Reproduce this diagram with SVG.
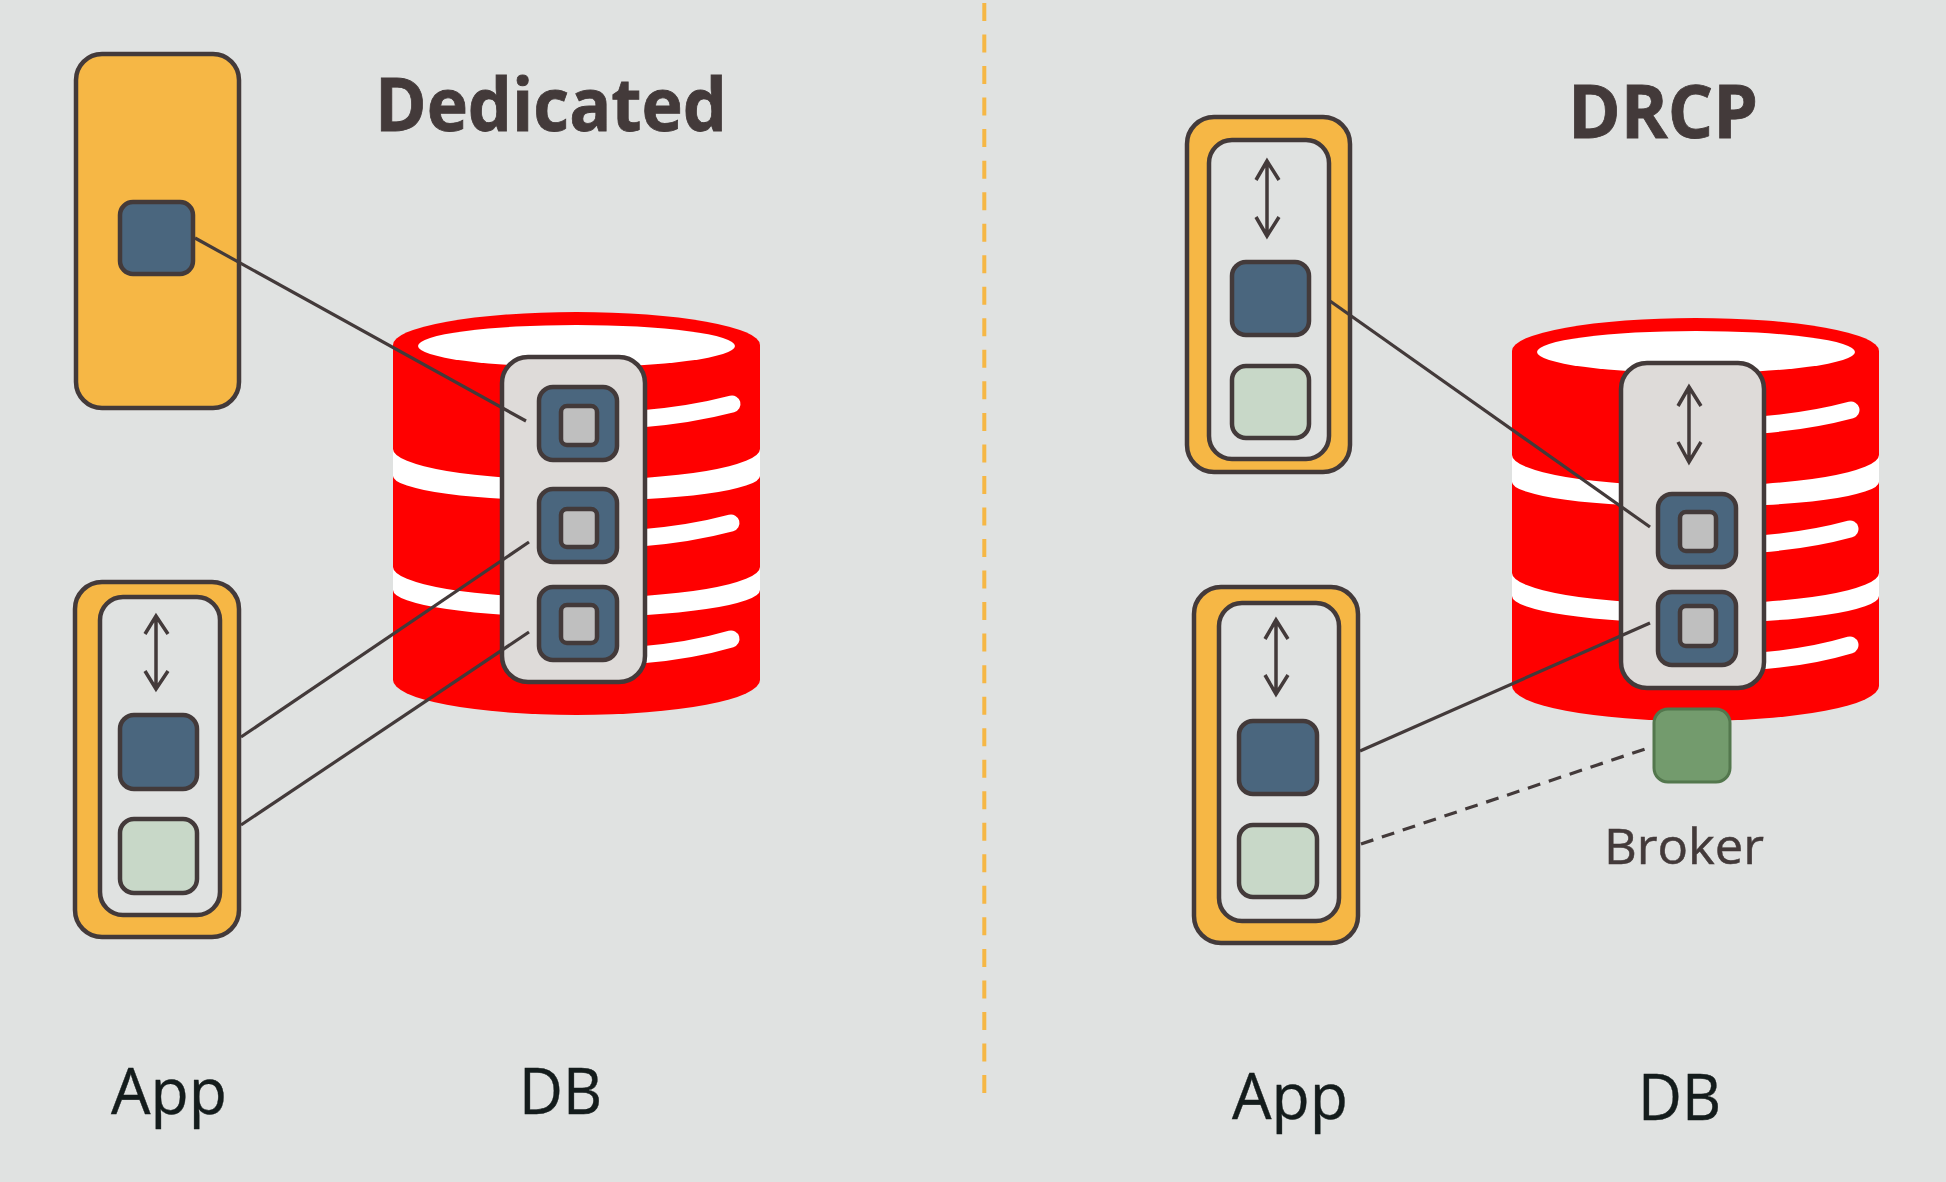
<svg xmlns="http://www.w3.org/2000/svg" width="1946" height="1182" viewBox="0 0 1946 1182">
<style>
.e{stroke:#433a3a;stroke-width:4.5;}
.o{fill:#f6b745;}
.i{fill:#e0e2e1;}
.b{fill:#4a667e;}
.g{fill:#c8d8c8;}
.p{fill:#dedbd9;}
.s{fill:#bfbfbf;}
.r{fill:#f00;}
.w{fill:#fff;}
.st{fill:none;stroke:#fff;stroke-width:17;stroke-linecap:round;}
.c{fill:none;stroke:#433a3a;stroke-width:3.2;}
.ar{fill:none;stroke:#433a3a;stroke-width:3.5;}
.t{font-family:"Open Sans","Noto Sans",sans-serif;}
.d{fill:#433a3a;font-weight:700;font-size:73px;stroke:#433a3a;stroke-width:.8;}
.l{fill:#141c1c;font-size:64px;stroke:#141c1c;stroke-width:.4;}
.k{fill:#433a3a;font-size:50px;stroke:#433a3a;stroke-width:.5;}
</style>
<rect width="1946" height="1182" fill="#e0e2e1"/>
<line x1="984.3" y1="3" x2="984.3" y2="1093" stroke="#f6b745" stroke-width="4" stroke-dasharray="18 13.53"/>

<g id="db-left">
<path class="r" d="M393 345A183.5 33 0 0 1 760 345V680A183.5 35 0 0 1 393 680Z"/>
<ellipse class="w" cx="576.5" cy="346" rx="158.5" ry="21"/>
<path class="w" d="M393 449A183.5 31 0 0 0 760 449V476A183.5 25 0 0 1 393 476Z"/>
<path class="w" d="M393 567A183.5 31 0 0 0 760 567V590A183.5 27 0 0 1 393 590Z"/>
<path class="st" d="M640 419Q690 415 732 404"/>
<path class="st" d="M640 538Q690 534 731 523"/>
<path class="st" d="M640 655Q690 651 731 639"/>
</g>
<g id="db-right">
<path class="r" d="M1512 351A183.5 33 0 0 1 1879 351V686A183.5 35 0 0 1 1512 686Z"/>
<ellipse class="w" cx="1696" cy="352" rx="159" ry="21"/>
<path class="w" d="M1512 455A183.5 31 0 0 0 1879 455V482A183.5 25 0 0 1 1512 482Z"/>
<path class="w" d="M1512 573A183.5 31 0 0 0 1879 573V596A183.5 27 0 0 1 1512 596Z"/>
<path class="st" d="M1760 425Q1810 421 1851 410"/>
<path class="st" d="M1760 544Q1810 540 1850 529"/>
<path class="st" d="M1760 661Q1810 657 1850 645"/>
</g>

<g id="panel-left">
<rect class="p e" x="502" y="357" width="143" height="325" rx="26"/>
<rect class="b e" x="539" y="387" width="78" height="73" rx="14"/>
<rect class="s e" x="561" y="406" width="36" height="39" rx="6"/>
<rect class="b e" x="539" y="489" width="78" height="73" rx="14"/>
<rect class="s e" x="561" y="509" width="36" height="38" rx="6"/>
<rect class="b e" x="539" y="587" width="78" height="73" rx="14"/>
<rect class="s e" x="561" y="605" width="36" height="38" rx="6"/>
</g>
<g id="panel-right">
<rect class="p e" x="1621" y="363" width="143" height="325" rx="26"/>
<path class="ar" d="M1689 387V462M1678 406L1689 387L1701 406M1678 442L1689 462L1701 442"/>
<rect class="b e" x="1658" y="494" width="78" height="73" rx="14"/>
<rect class="s e" x="1680" y="512" width="36" height="39" rx="6"/>
<rect class="b e" x="1658" y="592" width="78" height="73" rx="14"/>
<rect class="s e" x="1680" y="606" width="36" height="40" rx="6"/>
</g>

<g id="app-ded-1">
<rect class="o e" x="76" y="54" width="163" height="354" rx="26"/>
<rect class="b e" x="120" y="202" width="73" height="72" rx="13"/>
</g>
<g id="app-ded-2">
<rect class="o e" x="75" y="582" width="164" height="355" rx="27"/>
<rect class="i e" x="100" y="597" width="120" height="318" rx="23"/>
<path class="ar" d="M156 616V689M145 634L156 616L168 634M145 671L156 689L168 671"/>
<rect class="b e" x="120" y="715" width="77" height="74" rx="14"/>
<rect class="g e" x="120" y="819" width="77" height="74" rx="14"/>
</g>
<g id="app-drcp-1">
<rect class="o e" x="1187" y="117" width="163" height="355" rx="27"/>
<rect class="i e" x="1209" y="140" width="120" height="319" rx="23"/>
<path class="ar" d="M1267 161V236M1256 180L1267 161L1279 180M1256 217L1267 236L1279 217"/>
<rect class="b e" x="1232" y="262" width="77" height="73" rx="14"/>
<rect class="g e" x="1232" y="366" width="77" height="72" rx="14"/>
</g>
<g id="app-drcp-2">
<rect class="o e" x="1194" y="587" width="164" height="356" rx="27"/>
<rect class="i e" x="1219" y="603" width="120" height="318" rx="23"/>
<path class="ar" d="M1276 620V694M1265 639L1276 620L1288 639M1265 675L1276 694L1288 675"/>
<rect class="b e" x="1239" y="721" width="78" height="73" rx="14"/>
<rect class="g e" x="1239" y="825" width="78" height="72" rx="14"/>
</g>
<g id="broker">
<rect x="1654" y="709" width="76" height="73" rx="14" fill="#739b6d" stroke="#53774d" stroke-width="3"/>
<text class="t k" x="1604" y="864" textLength="160" lengthAdjust="spacingAndGlyphs">Broker</text>
</g>

<g id="connectors">
<line class="c" x1="195" y1="238" x2="526" y2="421"/>
<line class="c" x1="241" y1="737" x2="529" y2="542"/>
<line class="c" x1="241" y1="825" x2="529" y2="632"/>
<line class="c" x1="1330" y1="301" x2="1650" y2="527"/>
<line class="c" x1="1360" y1="751" x2="1650" y2="623"/>
<line class="c" x1="1361" y1="844" x2="1648" y2="748" stroke-dasharray="13 9"/>
</g>

<text class="t d" x="375" y="131" textLength="352" lengthAdjust="spacingAndGlyphs">Dedicated</text>
<text class="t d" x="1568" y="138" textLength="190" lengthAdjust="spacingAndGlyphs">DRCP</text>
<text class="t l" x="111" y="1114" textLength="116" lengthAdjust="spacingAndGlyphs">App</text>
<text class="t l" x="519" y="1114" textLength="83" lengthAdjust="spacingAndGlyphs">DB</text>
<text class="t l" x="1232" y="1119" textLength="116" lengthAdjust="spacingAndGlyphs">App</text>
<text class="t l" x="1638" y="1120" textLength="83" lengthAdjust="spacingAndGlyphs">DB</text>
</svg>
